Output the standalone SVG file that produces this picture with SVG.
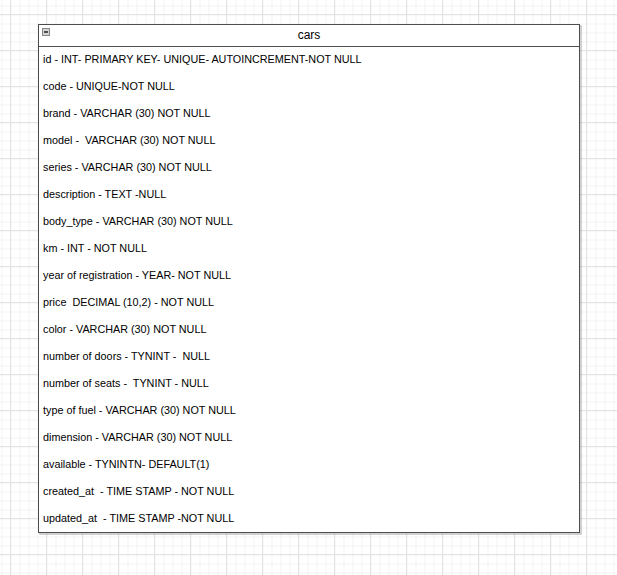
<svg xmlns="http://www.w3.org/2000/svg" width="617" height="575" viewBox="0 0 617 575">
<defs>
<pattern id="minor" width="9" height="9" patternUnits="userSpaceOnUse" x="1.5" y="5.5">
<path d="M0 0.5H9M0.5 0V9" fill="none" stroke="#f2f2f2" stroke-width="1"/>
</pattern>
<pattern id="major" width="36" height="36" patternUnits="userSpaceOnUse" x="10" y="14">
<path d="M0 0.5H36M0.5 0V36" fill="none" stroke="#e4e4e4" stroke-width="1"/>
</pattern>
</defs>
<style>
.row{font-family:"Liberation Sans",Arial,sans-serif;font-size:10.8px;fill:#000;dominant-baseline:central}
.hdr{font-family:"Liberation Sans",Arial,sans-serif;font-size:12px;fill:#000;text-anchor:middle;dominant-baseline:central}
</style>
<rect width="617" height="575" fill="#fff"/>
<rect width="617" height="575" fill="url(#minor)"/>
<rect width="617" height="575" fill="url(#major)"/>
<g id="cars">
<rect x="40" y="26" width="541" height="508" fill="none" stroke="#999" stroke-width="1.5" opacity="0.6"/>
<rect x="38.5" y="24.5" width="541" height="508" fill="#fff" stroke="#4d4d4d" stroke-width="1"/>
<line x1="38.5" y1="46.5" x2="579.5" y2="46.5" stroke="#4d4d4d" stroke-width="1"/>
<rect x="42.5" y="28.5" width="7" height="7" fill="#d4d4d4" stroke="#888" stroke-width="1"/>
<line x1="44" y1="32" x2="48" y2="32" stroke="#222" stroke-width="1.5"/>
<text class="hdr" x="309" y="35">cars</text>
<text class="row" x="43" y="58.5">id - INT- PRIMARY KEY- UNIQUE- AUTOINCREMENT-NOT NULL</text>
<text class="row" x="43" y="85.5">code - UNIQUE-NOT NULL</text>
<text class="row" x="43" y="112.5">brand - VARCHAR (30) NOT NULL</text>
<text class="row" x="43" y="139.5" xml:space="preserve">model -  VARCHAR (30) NOT NULL</text>
<text class="row" x="43" y="166.5">series - VARCHAR (30) NOT NULL</text>
<text class="row" x="43" y="193.5">description - TEXT -NULL</text>
<text class="row" x="43" y="220.5">body_type - VARCHAR (30) NOT NULL</text>
<text class="row" x="43" y="247.5">km - INT - NOT NULL</text>
<text class="row" x="43" y="274.5">year of registration - YEAR- NOT NULL</text>
<text class="row" x="43" y="301.5" xml:space="preserve">price  DECIMAL (10,2) - NOT NULL</text>
<text class="row" x="43" y="328.5">color - VARCHAR (30) NOT NULL</text>
<text class="row" x="43" y="355.5" xml:space="preserve">number of doors - TYNINT -  NULL</text>
<text class="row" x="43" y="382.5" xml:space="preserve">number of seats -  TYNINT - NULL</text>
<text class="row" x="43" y="409.5">type of fuel - VARCHAR (30) NOT NULL</text>
<text class="row" x="43" y="436.5">dimension - VARCHAR (30) NOT NULL</text>
<text class="row" x="43" y="463.5">available - TYNINTN- DEFAULT(1)</text>
<text class="row" x="43" y="490.5" xml:space="preserve">created_at  - TIME STAMP - NOT NULL</text>
<text class="row" x="43" y="517.5" xml:space="preserve">updated_at  - TIME STAMP -NOT NULL</text>
</g>
<g id="connectors"/>
</svg>
